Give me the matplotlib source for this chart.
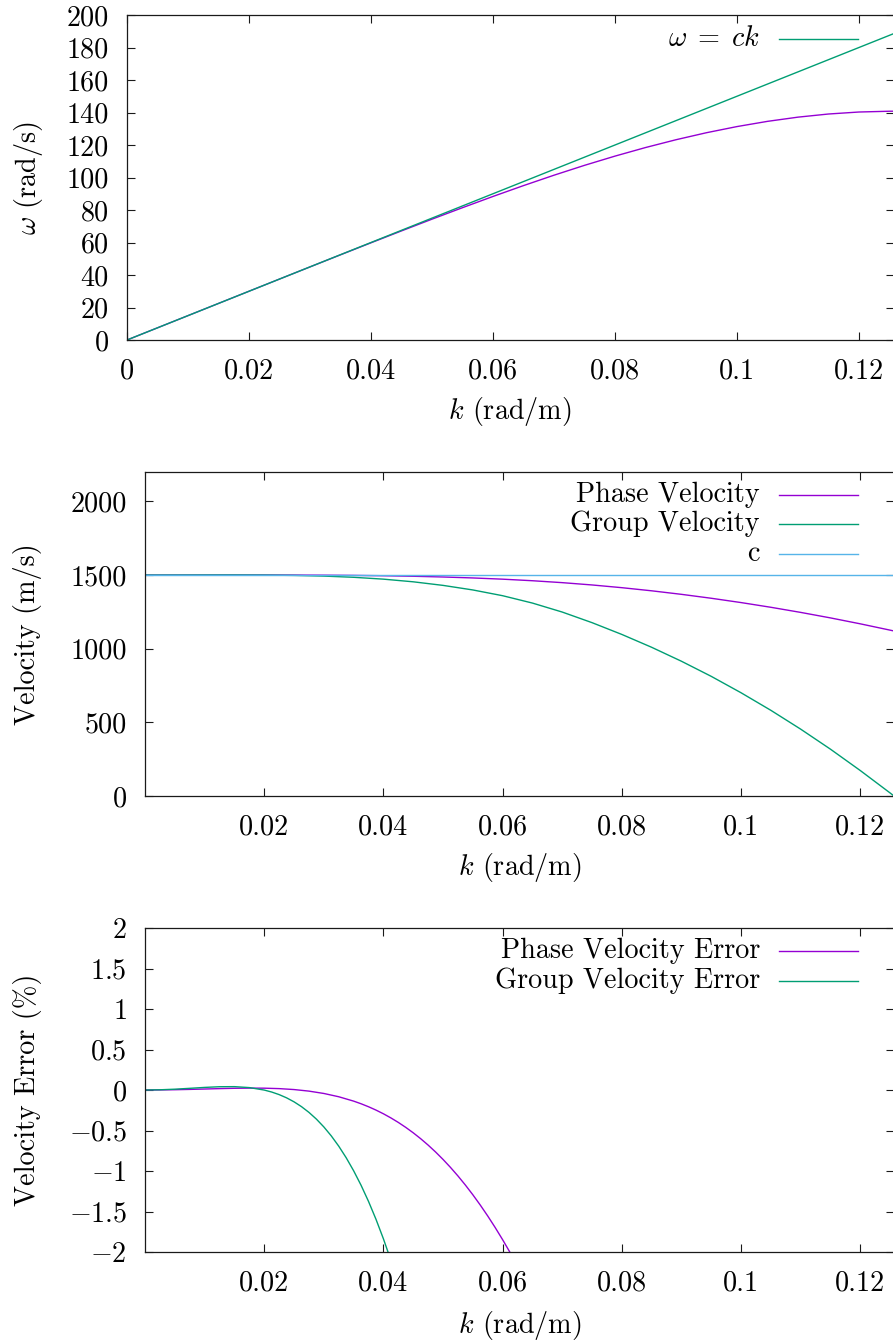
import matplotlib
matplotlib.use("Agg")
import matplotlib.pyplot as plt
from matplotlib.lines import Line2D

# ---------------------------------------------------------------------------
# Data
# ---------------------------------------------------------------------------
# wavenumber grid for the dispersion and velocity panels (rad/m)
k_grid = [0.0, 0.005, 0.01, 0.015, 0.02, 0.025, 0.03, 0.035, 0.04, 0.045,
          0.05, 0.055, 0.06, 0.065, 0.07, 0.075, 0.08, 0.085, 0.09, 0.095,
          0.1, 0.105, 0.11, 0.115, 0.12, 0.125, 0.12566]

# numerical angular frequency (rad/s)
omega_numeric = [0.0, 7.50, 15.00, 22.505, 30.007, 37.502, 44.98, 52.43,
                 59.82, 67.14, 74.36, 81.43, 88.34, 95.01, 101.41, 107.48,
                 113.16, 118.43, 123.24, 127.56, 131.34, 134.55, 137.14,
                 139.07, 140.30, 140.78, 140.79]

# exact dispersion omega = c k (rad/s)
omega_exact = [0.0, 7.5, 15.0, 22.5, 30.0, 37.5, 45.0, 52.5, 60.0, 67.5,
               75.0, 82.5, 90.0, 97.5, 105.0, 112.5, 120.0, 127.5, 135.0,
               142.5, 150.0, 157.5, 165.0, 172.5, 180.0, 187.5, 188.49]

# phase and group velocities (m/s)
v_phase = [1500.0, 1500.05, 1500.18, 1500.32, 1500.34, 1500.08, 1499.36,
           1497.94, 1495.59, 1492.07, 1487.14, 1480.60, 1472.28, 1461.7,
           1448.7, 1433.0, 1414.5, 1393.3, 1369.3, 1342.7, 1313.4, 1281.4,
           1246.7, 1209.3, 1169.1, 1126.2, 1120.4]
v_group = [1500.0, 1500.15, 1500.48, 1500.62, 1499.99, 1497.81, 1493.17,
           1485.05, 1472.44, 1454.4, 1430.1, 1399.1, 1360.0, 1310.0, 1249.0,
           1177.0, 1097.0, 1009.8, 915.0, 812.4, 701.0, 581.8, 454.0, 317.9,
           173.0, 20.8, 0.0]
sound_speed = 1500.0

# relative phase-velocity error (%)
k_err_phase = [0.0, 0.0025, 0.005, 0.0075, 0.01, 0.0125, 0.015, 0.0175,
               0.02, 0.0225, 0.025, 0.0275, 0.03, 0.0325, 0.035, 0.03625,
               0.0375, 0.03875, 0.04, 0.04125, 0.0425, 0.04375, 0.045,
               0.04625, 0.0475, 0.04875, 0.05, 0.05125, 0.0525, 0.05375,
               0.055, 0.05625, 0.0575, 0.05875, 0.06, 0.06125, 0.0625, 0.065]
err_phase = [0.0, 0.00089, 0.00344, 0.00735, 0.01211, 0.0170, 0.02112,
             0.02337, 0.0225, 0.01709, 0.00556, -0.01378, -0.04275, -0.08324,
             -0.13722, -0.1699, -0.2067, -0.2479, -0.29373, -0.34446,
             -0.40033, -0.4616, -0.52849, -0.60126, -0.68012, -0.76532,
             -0.85705, -0.95553, -1.06093, -1.17347, -1.29329, -1.42055,
             -1.55539, -1.69792, -1.84825, -2.00647, -2.17263, -2.5289]

# relative group-velocity error (%)
k_err_group = [0.0, 0.0025, 0.005, 0.0075, 0.01, 0.0125, 0.015, 0.0175,
               0.02, 0.02125, 0.0225, 0.02375, 0.025, 0.02625, 0.0275,
               0.02875, 0.03, 0.03125, 0.0325, 0.03375, 0.035, 0.03625,
               0.0375, 0.03875, 0.04, 0.04125, 0.0425]
err_group = [0.0, 0.00264, 0.01005, 0.02067, 0.03195, 0.04035, 0.04141,
             0.0298, -0.00065, -0.02502, -0.0567, -0.09668, -0.14588,
             -0.20533, -0.27605, -0.35913, -0.45558, -0.56649, -0.69293,
             -0.836, -0.99676, -1.17623, -1.3755, -1.59557, -1.83742,
             -2.102, -2.39022]

# axis ticks
k_max = 0.12566
xticks_top = [0.0, 0.02, 0.04, 0.06, 0.08, 0.1, 0.12]
xlabels_top = ["0", "0.02", "0.04", "0.06", "0.08", "0.1", "0.12"]
xticks_low = [0.02, 0.04, 0.06, 0.08, 0.1, 0.12]
xlabels_low = ["0.02", "0.04", "0.06", "0.08", "0.1", "0.12"]
omega_ticks = [0, 20, 40, 60, 80, 100, 120, 140, 160, 180, 200]
vel_ticks = [0, 500, 1000, 1500, 2000]
err_ticks = [-2, -1.5, -1, -0.5, 0, 0.5, 1, 1.5, 2]
err_labels = [r"$-2$", r"$-1.5$", r"$-1$", r"$-0.5$", r"$0$", r"$0.5$",
              r"$1$", r"$1.5$", r"$2$"]

# ---------------------------------------------------------------------------
# Style
# ---------------------------------------------------------------------------
PURPLE = "#9400D3"
GREEN = "#009E73"
BLUE = "#56B4E9"
INK = "#1a1a1a"
FS = 20.3

plt.rcParams.update({
    "font.family": "cmr10",
    "mathtext.fontset": "cm",
    "axes.unicode_minus": False,
    "font.size": FS,
})

W, H = 893, 1344
fig = plt.figure(figsize=(W / 100, H / 100), dpi=100)


def axes_px(left, top, right, bottom):
    return fig.add_axes([left / W, 1 - bottom / H,
                         (right - left) / W, (bottom - top) / H])


def style(ax):
    for s in ax.spines.values():
        s.set_linewidth(0.9)
        s.set_color(INK)
    ax.tick_params(direction="in", length=5.8, width=0.8, color=INK,
                   top=True, right=True, pad=13, labelsize=FS)
    ax.minorticks_off()


def legend_px(entries, x_text, x0, x1):
    for label, color, y in entries:
        fig.text(x_text / W, 1 - y / H, label, ha="right", va="center",
                 fontsize=FS)
        fig.add_artist(Line2D([x0 / W, x1 / W], [1 - y / H, 1 - y / H],
                              color=color, lw=1.0,
                              transform=fig.transFigure))


LW = 1.0

# --- dispersion relation ---------------------------------------------------
ax1 = axes_px(127, 15, 893.5, 340)
ax1.plot(k_grid, omega_numeric, color=PURPLE, lw=LW)
ax1.plot(k_grid, omega_exact, color=GREEN, lw=LW)
ax1.set_xlim(0, k_max)
ax1.set_ylim(0, 200)
ax1.set_xticks(xticks_top, xlabels_top)
ax1.set_yticks(omega_ticks, [str(t) for t in omega_ticks])
style(ax1)
ax1.set_xlabel(r"$k$ (rad/m)")
ax1.set_ylabel(r"$\omega$ (rad/s)")
ax1.xaxis.set_label_coords(0.5, -(412 - 340) / 325)
ax1.xaxis.label.set_va("center")
ax1.yaxis.set_label_coords(-(127 - 28) / 766.5, 0.5)
ax1.yaxis.label.set_va("center")
legend_px([(r"$\omega\;=\;ck$", GREEN, 38.5)], 760, 779, 858)

# --- phase / group velocity ---------------------------------------------------
ax2 = axes_px(145, 472, 894, 796)
ax2.plot(k_grid, v_phase, color=PURPLE, lw=LW)
ax2.plot(k_grid, v_group, color=GREEN, lw=LW)
ax2.plot(k_grid, [sound_speed] * len(k_grid), color=BLUE, lw=LW)
ax2.set_xlim(0, k_max)
ax2.set_ylim(0, 2200)
ax2.set_xticks(xticks_low, xlabels_low)
ax2.set_yticks(vel_ticks, [str(t) for t in vel_ticks])
style(ax2)
ax2.set_xlabel(r"$k$ (rad/m)")
ax2.set_ylabel("Velocity (m/s)")
ax2.xaxis.set_label_coords(0.5, -(868 - 796) / 324)
ax2.xaxis.label.set_va("center")
ax2.yaxis.set_label_coords(-(145 - 28) / 749, 0.5)
ax2.yaxis.label.set_va("center")
legend_px([("Phase Velocity", PURPLE, 494.5),
           ("Group Velocity", GREEN, 524),
           ("c", BLUE, 553.5)], 760, 779, 858)

# --- relative velocity error -------------------------------------------------
ax3 = axes_px(145, 928, 894, 1252)
ax3.plot(k_err_phase, err_phase, color=PURPLE, lw=LW)
ax3.plot(k_err_group, err_group, color=GREEN, lw=LW)
ax3.set_xlim(0, k_max)
ax3.set_ylim(-2, 2)
ax3.set_xticks(xticks_low, xlabels_low)
ax3.set_yticks(err_ticks, err_labels)
style(ax3)
ax3.set_xlabel(r"$k$ (rad/m)")
ax3.set_ylabel(r"Velocity Error (%)")
ax3.xaxis.set_label_coords(0.5, -(1326 - 1252) / 324)
ax3.xaxis.label.set_va("center")
ax3.yaxis.set_label_coords(-(145 - 28) / 749, 0.5)
ax3.yaxis.label.set_va("center")
legend_px([("Phase Velocity Error", PURPLE, 951),
           ("Group Velocity Error", GREEN, 980.5)], 760, 779, 858)

fig.savefig("out.png", dpi=100)
